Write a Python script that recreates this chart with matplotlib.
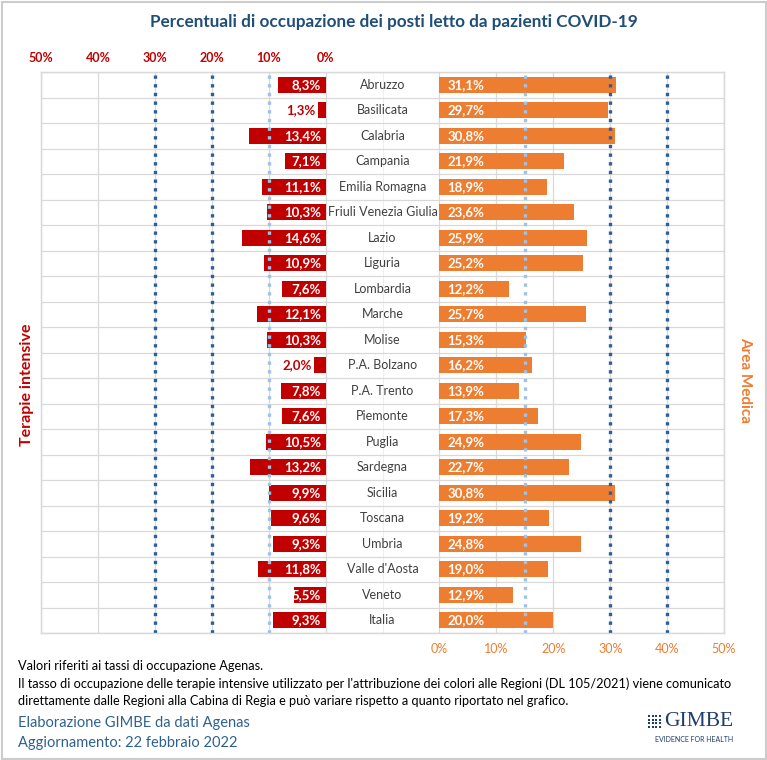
import matplotlib
matplotlib.use("Agg")
import matplotlib.pyplot as plt
from matplotlib.patches import Rectangle

plt.rcParams['font.family'] = ['Lato', 'DejaVu Sans']

# data
regioni = ["Abruzzo", "Basilicata", "Calabria", "Campania", "Emilia Romagna",
           "Friuli Venezia Giulia", "Lazio", "Liguria", "Lombardia", "Marche",
           "Molise", "P.A. Bolzano", "P.A. Trento", "Piemonte", "Puglia",
           "Sardegna", "Sicilia", "Toscana", "Umbria", "Valle d'Aosta",
           "Veneto", "Italia"]
terapie_intensive = [8.3, 1.3, 13.4, 7.1, 11.1, 10.3, 14.6, 10.9, 7.6, 12.1,
                     10.3, 2.0, 7.8, 7.6, 10.5, 13.2, 9.9, 9.6, 9.3, 11.8,
                     5.5, 9.3]
area_medica = [31.1, 29.7, 30.8, 21.9, 18.9, 23.6, 25.9, 25.2, 12.2, 25.7,
               15.3, 16.2, 13.9, 17.3, 24.9, 22.7, 30.8, 19.2, 24.8, 19.0,
               12.9, 20.0]
tick_vals = [0, 10, 20, 30, 40, 50]
soglie_ti = [10, 20, 30]
soglie_am = [15, 30, 40]

RED = "#C00000"
ORANGE = "#ED7D31"
LIGHTBLUE = "#9DC3E6"
DARKBLUE = "#2E5F9A"
GRID = "#D9D9D9"
GAP = 20  # width of the centre column, in percent units

W, H = 767, 760
fig = plt.figure(figsize=(W / 100, H / 100), dpi=100)
ax = fig.add_axes([41 / W, (H - 633) / H, 683 / W, (633 - 72) / H])

def left_x(v):
    return -GAP - v

n = len(regioni)
ys = list(range(n))

ax.set_xlim(left_x(50), 50)
ax.set_ylim(n - 0.5, -0.5)

# grid
for t in tick_vals:
    ax.axvline(t, color=GRID, lw=0.9, zorder=0)
    ax.axvline(left_x(t), color=GRID, lw=0.9, zorder=0)
ax.axvline(-GAP / 2, color="#EEEEEE", lw=0.8, zorder=0)
for i in range(n + 1):
    ax.axhline(i - 0.5, color=GRID, lw=0.9, zorder=0)

# bars
ax.barh(ys, [-v for v in terapie_intensive], left=-GAP, height=0.64,
        color=RED, zorder=2)
ax.barh(ys, area_medica, left=0, height=0.64, color=ORANGE, zorder=2)

# threshold lines
for s in soglie_ti:
    c = LIGHTBLUE if s == soglie_ti[0] else DARKBLUE
    ax.axvline(left_x(s), color=c, lw=2.4, ls=(0, (1, 1.6)), zorder=3)
for s in soglie_am:
    c = LIGHTBLUE if s == soglie_am[0] else DARKBLUE
    ax.axvline(s, color=c, lw=2.4, ls=(0, (1, 1.6)), zorder=3)

# labels
for y, name, ti, am in zip(ys, regioni, terapie_intensive, area_medica):
    lab = f"{ti:.1f}%".replace(".", ",")
    if ti < 4:
        ax.text(left_x(ti) - 0.4, y, lab, ha="right", va="center",
                color=RED, fontsize=9.5, fontweight="bold", zorder=4)
    else:
        ax.text(-GAP - 0.8, y, lab, ha="right", va="center",
                color="white", fontsize=9.5, fontweight="bold", zorder=4)
    ax.text(1.4, y, f"{am:.1f}%".replace(".", ","), ha="left", va="center",
            color="white", fontsize=9.5, fontweight="bold", zorder=4)
    ax.text(-GAP / 2, y, name, ha="center", va="center",
            color="#404040", fontsize=9, zorder=4)

# ticks
ax.set_xticks(tick_vals)
ax.set_xticklabels([f"{t}%" for t in tick_vals], color=ORANGE, fontsize=9)
ax.tick_params(axis="x", length=0, pad=7)
ax.set_yticks([])
top = ax.twiny()
top.set_xlim(ax.get_xlim())
top.set_xticks([left_x(t) for t in tick_vals])
top.set_xticklabels([f"{t}%" for t in tick_vals], color=RED, fontsize=9,
                    fontweight="bold")
top.tick_params(axis="x", length=0, pad=6)
for a in (ax, top):
    for sp in a.spines.values():
        sp.set_color(GRID)
        sp.set_linewidth(0.9)

# side labels
fig.text(27 / W, 1 - 385 / H, "Terapie intensive", rotation=90, ha="center",
         va="center", color=RED, fontsize=11.5, fontweight="bold")
fig.text(745 / W, 1 - 380 / H, "Area Medica", rotation=-90, ha="center",
         va="center", color=ORANGE, fontsize=11, fontweight="bold")

# title
fig.text(394 / W, 1 - 22 / H,
         "Percentuali di occupazione dei posti letto da pazienti COVID-19",
         ha="center", va="center", color="#1F4E79", fontsize=12.3,
         fontweight="bold")

# footer
note = ("Valori riferiti ai tassi di occupazione Agenas.\n"
        "Il tasso di occupazione delle terapie intensive utilizzato per l'attribuzione dei colori alle Regioni (DL 105/2021) viene comunicato\n"
        "direttamente dalle Regioni alla Cabina di Regia e può variare rispetto a quanto riportato nel grafico.")
fig.text(18 / W, 1 - 660 / H, note, ha="left", va="top", color="black",
         fontsize=9.2, linespacing=1.5)
fig.text(18 / W, 1 - 723 / H, "Elaborazione GIMBE da dati Agenas",
         ha="left", va="center", color="#2F6190", fontsize=10.5)
fig.text(18 / W, 1 - 743 / H, "Aggiornamento: 22 febbraio 2022",
         ha="left", va="center", color="#2F6190", fontsize=10.5)

# logo
LOGO = "#1F3C6E"
fig.text(733 / W, 1 - 721 / H, "GIMBE", ha="right", va="center", color=LOGO,
         fontsize=15.5, family="Liberation Serif")
fig.text(733 / W, 1 - 740 / H, "EVIDENCE FOR HEALTH", ha="right", va="center",
         color=LOGO, fontsize=5)
for r in range(4):
    for c in range(4):
        fig.patches.append(Rectangle(((648 + c * 3.5) / W, 1 - (715 + r * 3.5 + 2.2) / H),
                                     2.2 / W, 2.2 / H, transform=fig.transFigure,
                                     facecolor=LOGO, edgecolor="none",
                                     antialiased=False))

# outer border
fig.patches.append(Rectangle((1.5 / W, 1.5 / H), 1 - 3 / W, 1 - 3 / H,
                             transform=fig.transFigure, fill=False,
                             edgecolor="#CCCCCC", lw=1.5))

fig.savefig("out.png", dpi=100)
